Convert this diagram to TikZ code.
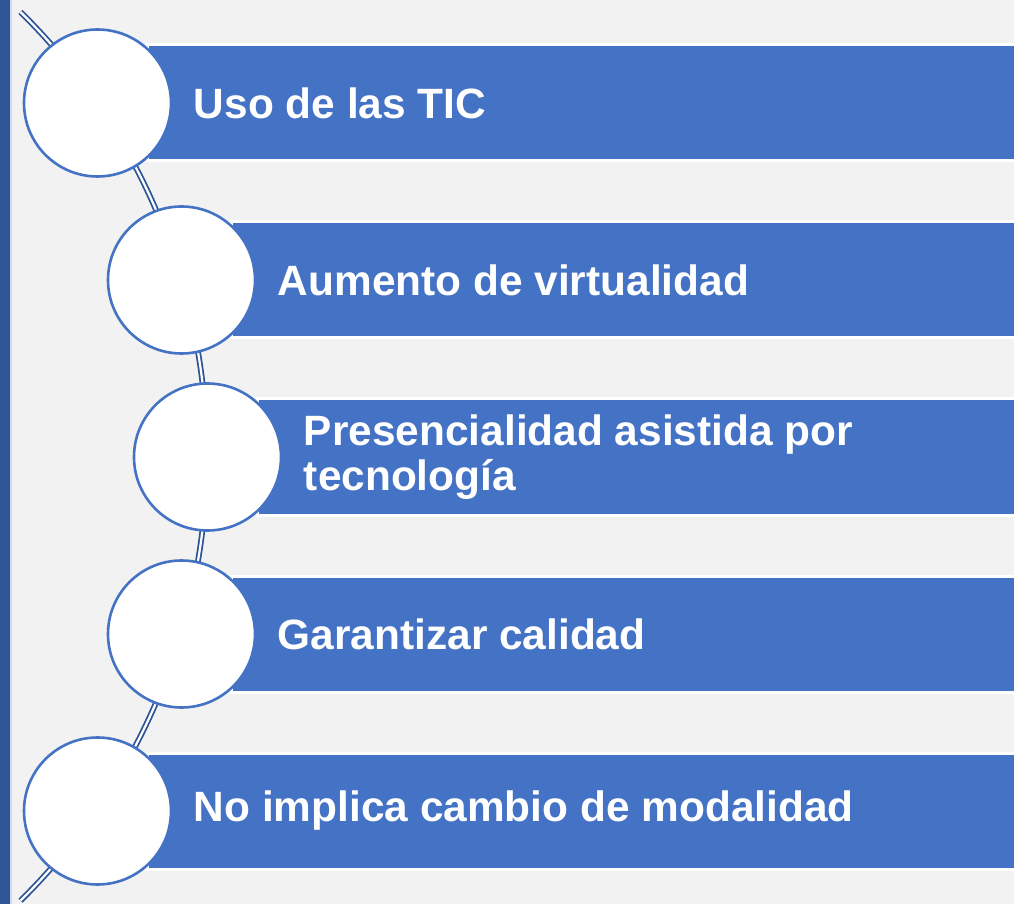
\documentclass[tikz,border=0pt]{standalone}
\usepackage{fontspec}
\setmainfont{Liberation Sans}
\definecolor{accent}{HTML}{4472C4}
\definecolor{darkaccent}{HTML}{2F5597}
\definecolor{pagebg}{HTML}{F2F2F2}
\tikzset{
  stepbar/.style={rectangle, fill=accent, draw=white, line width=1.5pt,
    minimum height=58pt, anchor=west, inner sep=0pt},
  stepdot/.style={circle, draw=accent, line width=1.3pt, fill=white,
    minimum size=73.5pt, inner sep=0pt},
  steplabel/.style={anchor=west, text=white, inner sep=0pt, align=left,
    font=\fontsize{21.2}{22.5}\selectfont\bfseries},
  spine/.style={draw=darkaccent, double=white, line width=0.9pt,
    double distance=1.1pt}
}
\begin{document}
\begin{tikzpicture}[x=0.5pt,y=-0.5pt]
  \useasboundingbox (0,0) rectangle (1014,904);
  \clip (0,0) rectangle (1014,904);
  \fill[pagebg] (0,0) rectangle (1014,904);
  % side strip
  \fill[darkaccent] (0,0) rectangle (10,904);
  \fill[white!75!accent] (10,0) rectangle (11.5,904);
  % curved spine behind the dots
  \coordinate (spinetop) at (20.5,12);
  \draw[spine] (spinetop) arc[start angle=-45.5, end angle=45.5, radius=623];
  \foreach \i/\cx/\cy/\txt in {
      1/97.5/103/{Uso de las TIC},
      2/181.5/280/{Aumento de virtualidad},
      3/207.5/457/{Presencialidad asistida por\\tecnología},
      4/181.5/634/{Garantizar calidad},
      5/97.5/811/{No implica cambio de modalidad}} {
    \node[stepbar, minimum width={(982-\cx)*0.5pt}] (bar\i) at (\cx+48,\cy) {};
    \node[stepdot] (dot\i) at (\cx,\cy) {};
    \node[steplabel] (label\i) at (\cx+96,\cy) {\txt};
  }
\end{tikzpicture}
\end{document}
